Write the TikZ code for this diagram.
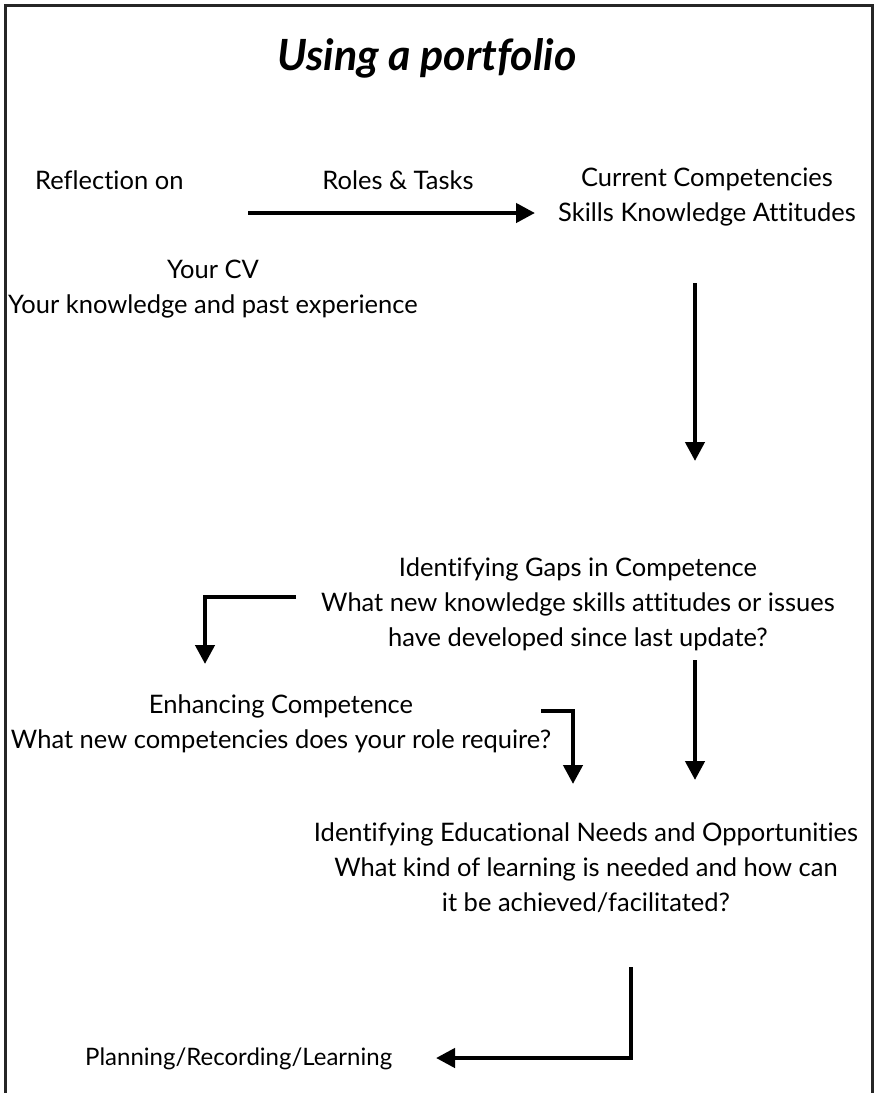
\documentclass[tikz,border=0pt]{standalone}
\usepackage{fontspec}
\setmainfont{Lato}[Ligatures=NoCommon]
\usetikzlibrary{arrows.meta}
\begin{document}
\begin{tikzpicture}[x=1pt,y=-1pt,
  lbl/.style={inner sep=0pt, align=center, font=\fontsize{25.5}{35}\selectfont},
  conn/.style={line width=4.3pt, -{Triangle[width=19pt,length=19pt]}},
  frame/.style={line width=3pt, draw=black!85}]
\useasboundingbox (0,0) rectangle (876,1093);
\begin{scope}
\clip (0,0) rectangle (876,1093);
\draw[frame] (5,1120) -- (5,5) -- (872,5) -- (872,1120);
\end{scope}
\node[inner sep=0pt, font=\fontsize{43}{46}\selectfont\bfseries\itshape] (title) at (427,58) {Using a portfolio};
\node[lbl, anchor=west] (refl) at (35,180) {Reflection on};
\node[lbl] (roles) at (398,180) {Roles \& Tasks};
\node[lbl] (curr) at (707,197) {Current Competencies\\Skills Knowledge Attitudes};
\node[lbl] (cv) at (213,289) {Your CV\\Your knowledge and past experience};
\node[lbl] (gaps) at (578,604) {Identifying Gaps in Competence\\What new knowledge skills attitudes or issues\\have developed since last update?};
\node[lbl] (enh) at (281,724) {Enhancing Competence\\What new competencies does your role require?};
\node[lbl] (needs) at (586,868) {Identifying Educational Needs and Opportunities\\What kind of learning is needed and how can\\it be achieved/facilitated?};
\node[lbl, anchor=west, font=\fontsize{24}{35}\selectfont] (plan) at (85,1059) {Planning/Recording/Learning};
% connector endpoints
\coordinate (a1s) at (248,213);
\coordinate (a1e) at (535,213);
\coordinate (a2s) at (695,283);
\coordinate (a2e) at (695,461);
\coordinate (a3s) at (296,597);
\coordinate (a3c) at (205,597);
\coordinate (a3e) at (205,664);
\coordinate (a4s) at (695,660);
\coordinate (a4e) at (695,780);
\coordinate (a5s) at (541,711);
\coordinate (a5c) at (573,711);
\coordinate (a5e) at (573,784);
\coordinate (a6s) at (631,967);
\coordinate (a6c) at (631,1058);
\coordinate (a6e) at (436,1058);
\draw[conn] (a1s) -- (a1e);
\draw[conn] (a2s) -- (a2e);
\draw[conn] (a3s) -- (a3c) -- (a3e);
\draw[conn] (a4s) -- (a4e);
\draw[conn] (a5s) -- (a5c) -- (a5e);
\draw[conn] (a6s) -- (a6c) -- (a6e);
\end{tikzpicture}
\end{document}
